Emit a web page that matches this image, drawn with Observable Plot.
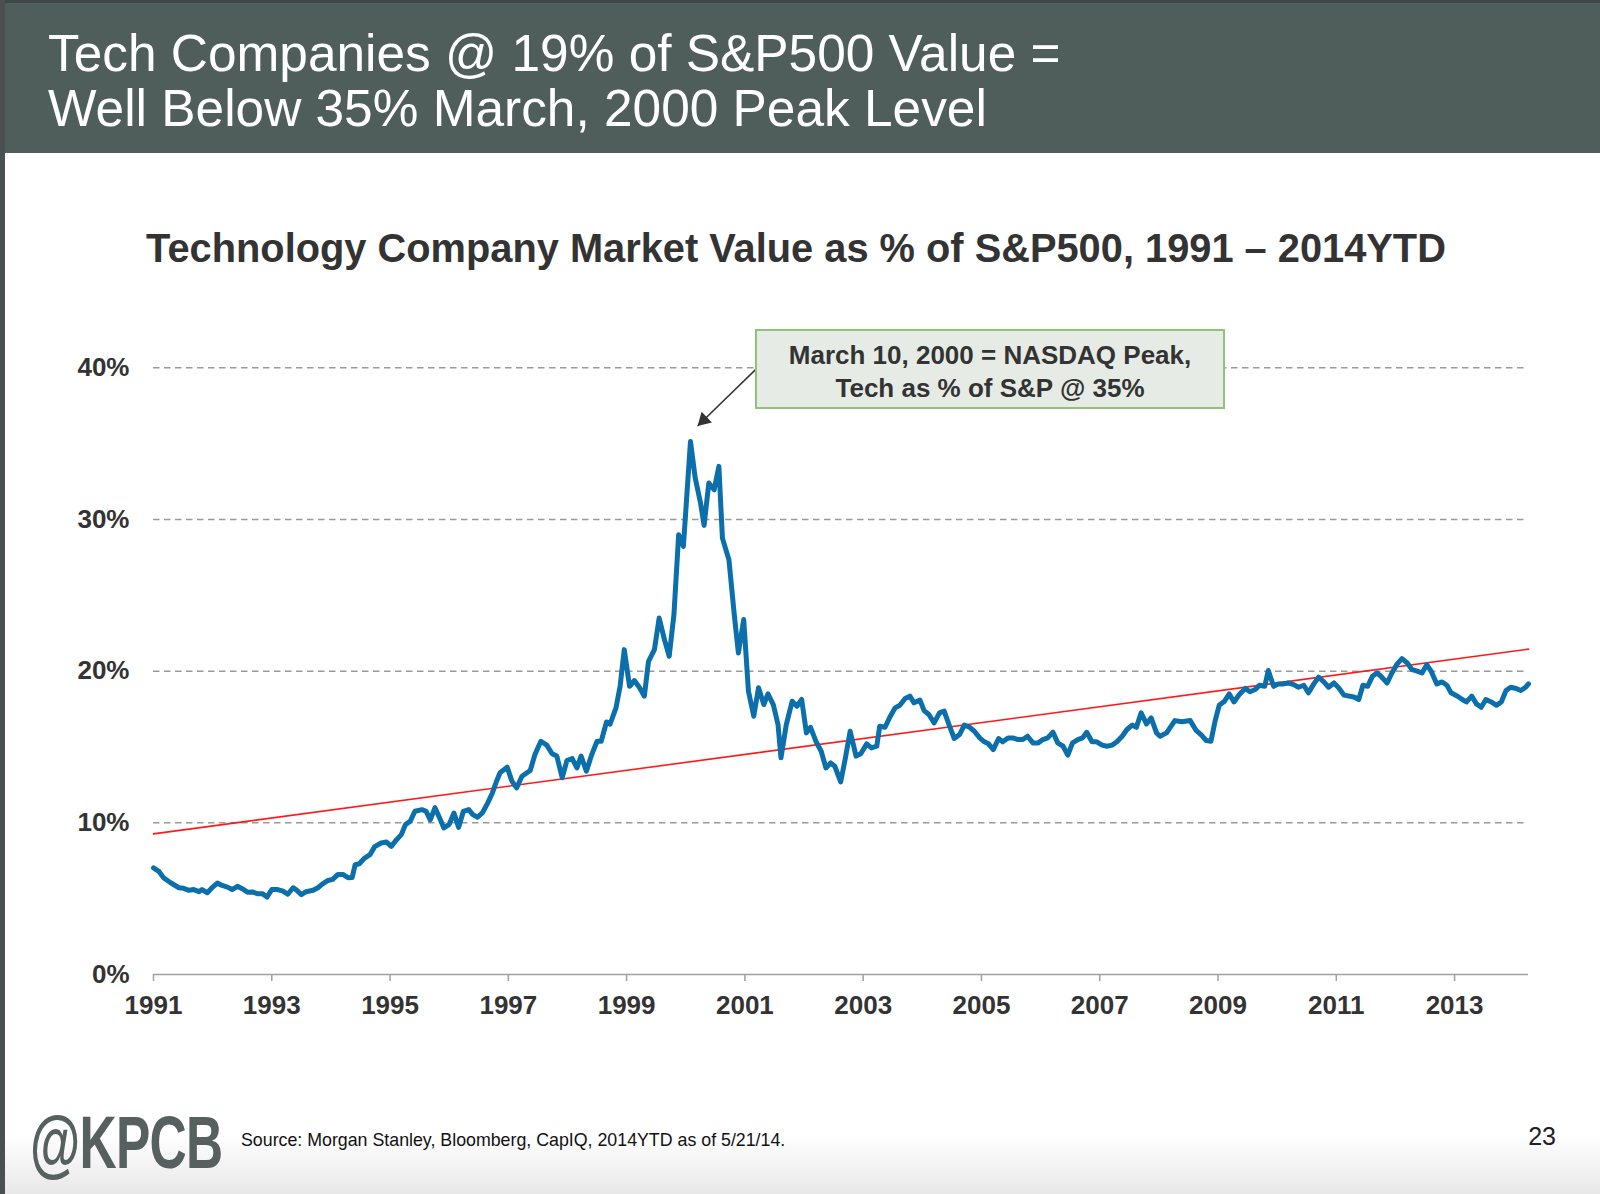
<!DOCTYPE html>
<html>
<head>
<meta charset="utf-8">
<script src="https://cdn.jsdelivr.net/npm/d3@7"></script>
<script src="https://cdn.jsdelivr.net/npm/@observablehq/plot@0.6"></script>
<style>
  html, body { margin: 0; padding: 0; background: #fff; }
  body { width: 1600px; height: 1194px; position: relative; overflow: hidden; font-family: "Liberation Sans", Arial, Helvetica, sans-serif; }
  .abs { position: absolute; white-space: nowrap; line-height: 1; }
  #header { position: absolute; left: 0; top: 0; width: 1600px; height: 153px; background: #505e5b; border-top: 3px solid #40474a; box-sizing: border-box; }
  #leftEdge { position: absolute; left: 0; top: 0; width: 5px; height: 1194px; background: #4a5052; z-index: 5; }
  .h1 { color: #fff; font-size: 51.4px; left: 48px; }
  #ctitle { font-size: 39.8px; font-weight: bold; color: #333; left: 796px; top: 229px; transform: translateX(-50%); }
  #chart { position: absolute; left: 0; top: 290px; }
  #note { position: absolute; left: 755px; top: 329px; width: 470px; height: 80px; box-sizing: border-box; background: #e6ece5; border: 2px solid #90c27a; }
  .nl { font-size: 26px; font-weight: bold; color: #333; left: 990px; transform: translateX(-50%); }
  #logo { font-size: 74px; font-weight: bold; color: #56605f; left: 30px; top: 1106px; transform: scaleX(0.695); transform-origin: left top; letter-spacing: -1px; }
  #source { font-size: 17.8px; color: #111; left: 241px; top: 1132px; }
  #page { font-size: 25px; color: #222; right: 44px; top: 1124px; }
  #fade { position: absolute; left: 0; bottom: 0; width: 1600px; height: 60px; background: linear-gradient(#ffffff, #e8e8e8); }
</style>
</head>
<body>
<div id="fade"></div>
<div id="header"></div>
<div id="leftEdge"></div>
<div class="abs h1" style="top:28px">Tech Companies @ 19% of S&amp;P500 Value =</div>
<div class="abs h1" style="top:83px">Well Below 35% March, 2000 Peak Level</div>
<div class="abs" id="ctitle">Technology Company Market Value as % of S&amp;P500, 1991 – 2014YTD</div>
<div id="chart"></div>
<div id="note"></div>
<div class="abs nl" style="top:342px">March 10, 2000 = NASDAQ Peak,</div>
<div class="abs nl" style="top:375px">Tech as % of S&amp;P @ 35%</div>
<div class="abs" id="logo">@KPCB</div>
<div class="abs" id="source">Source: Morgan Stanley, Bloomberg, CapIQ, 2014YTD as of 5/21/14.</div>
<div class="abs" id="page">23</div>
<script>
// ---- data (decimal year, % of S&P500) ----
const years = [
  1991.00,1991.09,1991.17,1991.29,1991.43,1991.51,1991.60,1991.68,1991.77,1991.82,1991.91,1991.99,
  1992.08,1992.16,1992.25,1992.33,1992.42,1992.50,1992.59,1992.67,1992.76,1992.84,1992.92,
  1993.00,1993.10,1993.19,1993.27,1993.36,1993.41,1993.50,1993.58,1993.70,1993.78,1993.86,1993.95,
  1994.03,1994.12,1994.20,1994.29,1994.36,1994.41,1994.48,1994.57,1994.66,1994.74,1994.85,1994.94,
  1995.02,1995.11,1995.19,1995.26,1995.34,1995.42,1995.54,1995.61,1995.68,1995.76,1995.84,1995.91,
  1996.00,1996.08,1996.16,1996.24,1996.33,1996.40,1996.48,1996.56,1996.65,1996.73,1996.80,
  1996.86,1996.98,1997.06,1997.14,1997.23,1997.37,1997.45,1997.55,1997.65,1997.74,1997.82,1997.91,
  1997.99,1998.08,1998.16,1998.23,1998.32,1998.41,1998.50,1998.57,1998.66,1998.72,1998.82,1998.89,1998.96,
  1999.05,1999.13,1999.22,1999.30,1999.37,1999.47,1999.55,1999.64,1999.72,1999.80,1999.88,1999.96,
  2000.00,2000.08,2000.16,2000.25,2000.31,2000.39,2000.48,2000.56,2000.62,2000.73,2000.82,2000.89,2000.98,
  2001.06,2001.15,2001.23,2001.32,2001.39,2001.48,2001.56,2001.61,2001.70,2001.80,2001.88,2001.96,
  2002.04,2002.11,2002.20,2002.29,2002.37,2002.45,2002.52,2002.62,2002.70,2002.78,2002.88,2002.96,
  2003.06,2003.14,2003.23,2003.28,2003.37,2003.45,2003.54,2003.62,2003.71,2003.79,2003.86,2003.96,
  2004.03,2004.11,2004.20,2004.29,2004.37,2004.46,2004.54,2004.63,2004.71,2004.80,2004.88,2004.97,
  2005.05,2005.12,2005.20,2005.29,2005.36,2005.45,2005.53,2005.62,2005.70,2005.78,2005.87,2005.96,
  2006.04,2006.12,2006.21,2006.29,2006.38,2006.46,2006.54,2006.63,2006.71,2006.78,2006.87,2006.95,
  2007.04,2007.12,2007.21,2007.29,2007.38,2007.46,2007.55,2007.62,2007.70,2007.79,2007.87,2007.96,
  2008.02,2008.13,2008.27,2008.39,2008.53,2008.63,2008.72,2008.80,2008.88,2008.95,
  2009.02,2009.11,2009.19,2009.27,2009.36,2009.46,2009.54,2009.63,2009.70,2009.79,2009.85,2009.94,
  2010.02,2010.11,2010.19,2010.28,2010.36,2010.45,2010.53,2010.62,2010.70,2010.79,2010.87,2010.96,
  2011.04,2011.13,2011.23,2011.31,2011.38,2011.45,2011.53,2011.61,2011.69,2011.77,2011.86,2011.94,
  2012.03,2012.11,2012.20,2012.28,2012.37,2012.45,2012.53,2012.61,2012.70,2012.79,2012.87,2012.94,
  2013.05,2013.13,2013.20,2013.29,2013.37,2013.45,2013.53,2013.62,2013.71,2013.79,2013.87,2013.95,
  2014.04,2014.12,2014.20,2014.25
];
const techShare = [
  7.03,6.80,6.38,6.05,5.72,5.68,5.55,5.60,5.46,5.60,5.39,5.72,
  6.03,5.87,5.76,5.60,5.81,5.66,5.42,5.44,5.33,5.33,5.11,
  5.60,5.60,5.50,5.29,5.72,5.60,5.27,5.46,5.55,5.72,5.98,6.20,
  6.27,6.60,6.60,6.38,6.40,7.24,7.30,7.68,7.90,8.43,8.67,8.73,
  8.45,8.89,9.22,9.88,10.10,10.76,10.87,10.76,10.20,11.00,10.30,9.66,
  9.90,10.65,9.70,10.76,10.87,10.54,10.37,10.65,11.30,11.97,12.74,
  13.30,13.67,12.75,12.30,13.07,13.45,14.50,15.38,15.12,14.55,14.40,12.97,
  14.10,14.24,13.62,14.40,13.40,14.50,15.38,15.38,16.65,16.50,17.58,19.00,21.42,
  19.00,19.38,18.90,18.35,20.65,21.42,23.50,22.08,20.98,23.73,29.00,28.23,
  30.53,35.14,32.73,31.08,29.61,32.40,31.96,33.50,28.77,27.35,23.73,21.20,23.40,
  18.68,17.03,18.90,17.80,18.50,17.80,16.48,14.29,16.48,18.02,17.69,18.13,
  15.93,16.30,15.38,14.72,13.62,13.95,13.73,12.70,14.29,16.04,14.40,14.55,
  15.21,14.94,15.05,16.37,16.30,16.96,17.58,17.75,18.20,18.35,17.91,18.09,
  17.40,17.14,16.59,17.25,17.36,16.37,15.56,15.82,16.44,16.30,16.04,15.60,
  15.34,15.21,14.83,15.56,15.34,15.60,15.60,15.49,15.49,15.71,15.27,15.27,
  15.49,15.60,15.97,15.27,15.05,14.46,15.27,15.49,15.60,15.97,15.34,15.34,
  15.12,15.05,15.12,15.34,15.71,16.15,16.44,16.30,17.25,16.52,16.92,15.93,
  15.71,15.93,16.74,16.66,16.74,16.09,15.78,15.43,15.38,16.70,
  17.75,18.02,18.50,17.97,18.46,18.86,18.64,18.79,19.07,19.00,20.04,19.00,
  19.16,19.16,19.22,19.11,18.94,19.07,18.57,19.16,19.60,19.29,18.94,19.22,
  18.90,18.42,18.35,18.28,18.13,19.07,19.00,19.66,19.88,19.60,19.22,19.88,
  20.48,20.83,20.54,20.10,20.00,19.88,20.43,19.95,19.16,19.29,19.07,18.57,
  18.35,18.13,17.97,18.35,17.84,17.62,18.13,17.97,17.75,17.97,18.72,18.94,
  18.86,18.72,18.94,19.16
];
// red trend line end points
const trendYears = [1991, 2014.25];
const trendValues = [9.27, 21.45];
// axes
const yTicks = [0, 10, 20, 30, 40];
const gridValues = [10, 20, 30, 40];
const xTickYears = [1991,1993,1995,1997,1999,2001,2003,2005,2007,2009,2011,2013];
// annotation arrow: from note box corner to peak
const arrowFrom = {year: 2001.18, value: 39.88};
const arrowTo = {year: 2000.20, value: 36.16};

const series = years.map((y, i) => ({year: y, value: techShare[i]}));
const trend = trendYears.map((y, i) => ({year: y, value: trendValues[i]}));

const chart = Plot.plot({
  width: 1600,
  height: 744,
  marginLeft: 153,
  marginRight: 72,
  marginTop: 77.3,
  marginBottom: 60,
  style: {fontFamily: "'Liberation Sans', Arial, Helvetica, sans-serif", background: "transparent", overflow: "visible"},
  x: {domain: [1991, 2014.25]},
  y: {domain: [0, 40]},
  marks: [
    Plot.ruleY(gridValues, {stroke: "#9a9a9a", strokeWidth: 1.5, strokeDasharray: "6.5,4.5"}),
    Plot.ruleY([0], {stroke: "#a0a0a0", strokeWidth: 1.5}),
    Plot.axisY({ticks: yTicks, tickFormat: d => d + "%", tickSize: 0, tickPadding: 24, fontSize: 26, fontWeight: "bold", fill: "#333", label: null}),
    Plot.axisX({ticks: xTickYears, tickFormat: d => String(d), tickSize: 7, tickPadding: 14.5, stroke: "#a0a0a0", strokeWidth: 1.5, fill: "#333", fontSize: 26, fontWeight: "bold", label: null}),
    Plot.line(trend, {x: "year", y: "value", stroke: "#ff1a1a", strokeWidth: 1.6}),
    Plot.line(series, {x: "year", y: "value", stroke: "#0b6fab", strokeWidth: 5, strokeLinejoin: "round", strokeLinecap: "round"}),
    Plot.link([{x1: arrowFrom.year, y1: arrowFrom.value, x2: arrowTo.year, y2: arrowTo.value}], {x1: "x1", y1: "y1", x2: "x2", y2: "y2", stroke: "#333", strokeWidth: 1.5}),
    Plot.dot([arrowTo], {x: "year", y: "value", symbol: "triangle", r: 5.5, fill: "#333", stroke: "none", rotate: 226, dx: 6.1, dy: -5.9})
  ]
});
document.getElementById("chart").appendChild(chart);
</script>
</body>
</html>
